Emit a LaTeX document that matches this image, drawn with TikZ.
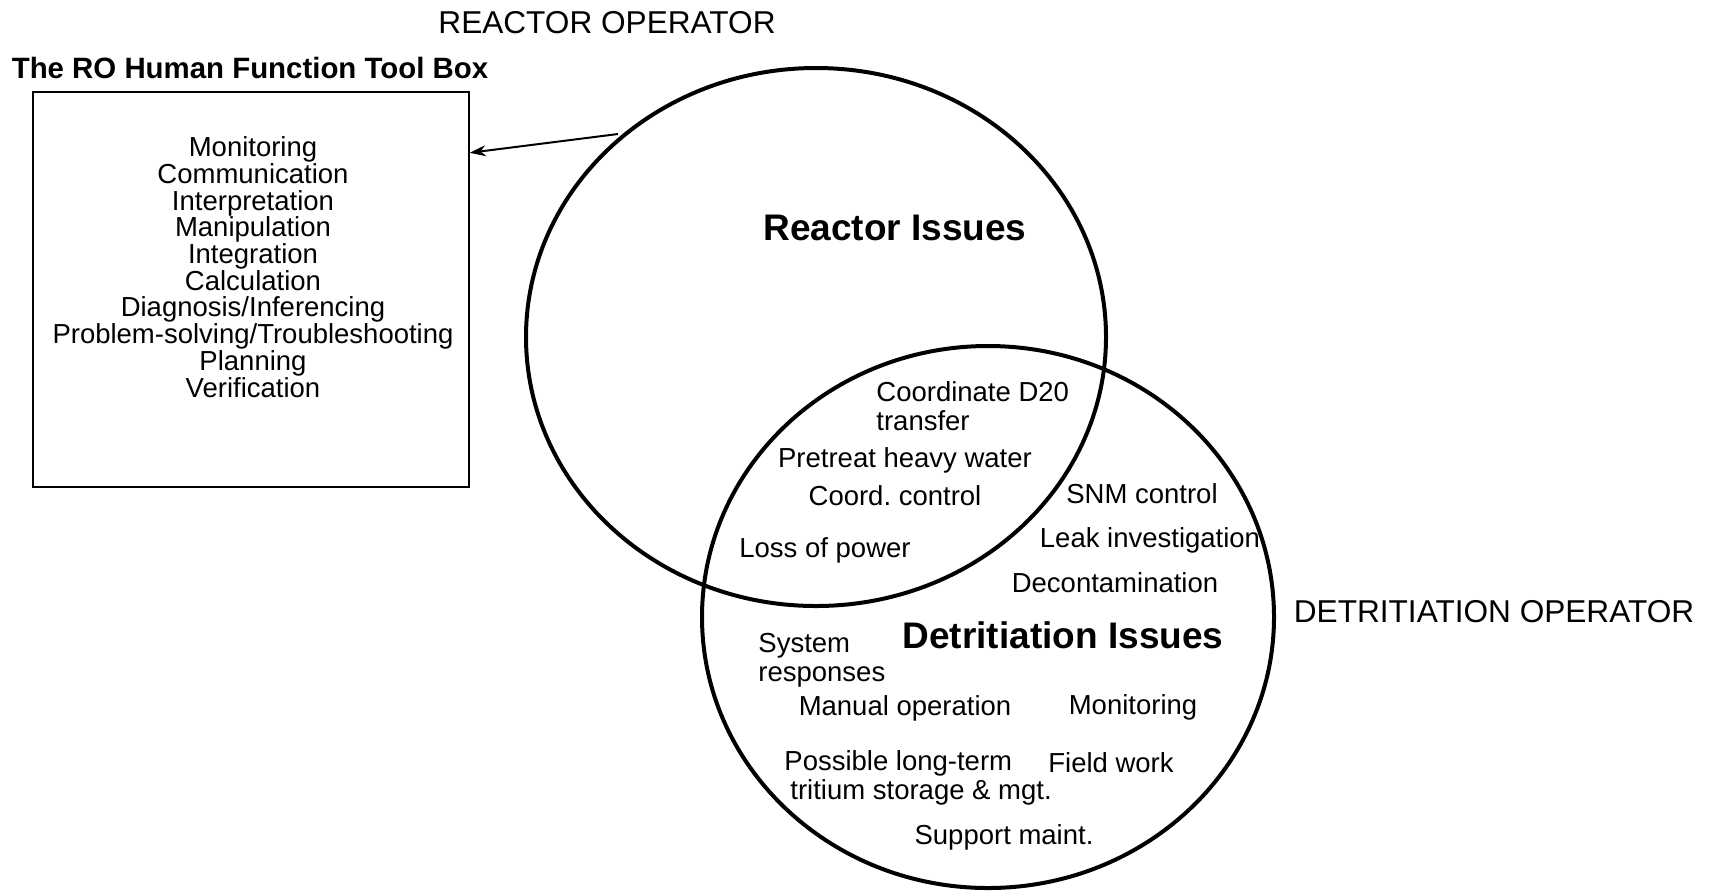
\documentclass[tikz,border=0pt]{standalone}
\usepackage{fontspec}
\setmainfont{Liberation Sans}
\usetikzlibrary{shapes.geometric,arrows.meta}
\begin{document}
\begin{tikzpicture}[x=0.5pt,y=-0.5pt,
  lbl/.style={inner sep=0pt,font=\fontsize{13.75}{14.5}\selectfont},
  oper/.style={inner sep=0pt,font=\fontsize{15.8}{18}\selectfont},
  issue/.style={inner sep=0pt,font=\bfseries\fontsize{18.5}{20}\selectfont},
  venn/.style={draw,ellipse,line width=2pt,inner sep=0pt}]
\useasboundingbox (0,0) rectangle (1712,890);
\node[oper,anchor=base] (ro) at (607,33) {REACTOR OPERATOR};
\node[inner sep=0pt,anchor=base,font=\bfseries\fontsize{14.7}{16}\selectfont] (title) at (250,78) {The RO Human Function Tool Box};
\node[draw,line width=0.8pt,minimum width=218pt,minimum height=197.5pt] (toolbox) at (251,289.5) {};
% base of a multi-line node is its last line
\node[lbl,anchor=base,align=center,font=\fontsize{13.75}{13.35}\selectfont] (toollist) at (253,397) {Monitoring\\Communication\\Interpretation\\Manipulation\\Integration\\Calculation\\Diagnosis/Inferencing\\Problem-solving/Troubleshooting\\Planning\\Verification};
\node[venn,minimum width=290pt,minimum height=269pt] (reactor) at (816,337) {};
\node[venn,minimum width=286pt,minimum height=271pt] (detrit) at (988,617) {};
\coordinate (arrowstart) at (618,134);
\draw[->,>={Stealth[length=8pt,width=5.5pt]},line width=1pt] (arrowstart) -- (toolbox.32);
% reactor side
\node[issue,anchor=base] (rissues) at (895,240) {Reactor Issues};
\node[lbl,anchor=base west,align=left] (coordd) at (876,430) {Coordinate D20\\transfer};
\node[lbl,anchor=base] (pretreat) at (905,467) {Pretreat heavy water};
\node[lbl,anchor=base] (coordc) at (895,505) {Coord.\ control};
\node[lbl,anchor=base] (loss) at (825,557) {Loss of power};
% detritiation side
\node[lbl,anchor=base] (snm) at (1142,503) {SNM control};
\node[lbl,anchor=base] (leak) at (1150,547) {Leak investigation};
\node[lbl,anchor=base] (decon) at (1115,592) {Decontamination};
\node[oper,anchor=base] (do) at (1494,622) {DETRITIATION OPERATOR};
\node[issue,anchor=base] (dissues) at (1063,648) {Detritiation Issues};
\node[lbl,anchor=base west,align=left] (sysresp) at (758,681) {System\\responses};
\node[lbl,anchor=base] (manual) at (905,715) {Manual operation};
\node[lbl,anchor=base] (monit) at (1133,714) {Monitoring};
\node[lbl,anchor=base west,align=left] (storage) at (784,799) {Possible long-term\\\hspace{3pt}tritium storage \& mgt.};
\node[lbl,anchor=base] (field) at (1111,772) {Field work};
\node[lbl,anchor=base] (support) at (1004,844) {Support maint.};
\end{tikzpicture}
\end{document}
